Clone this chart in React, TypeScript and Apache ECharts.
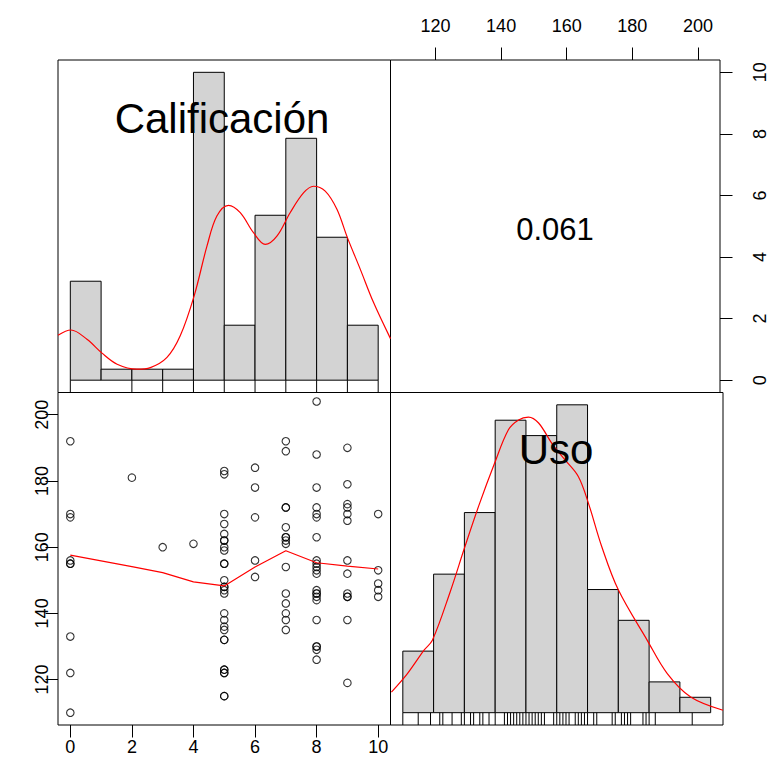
import { useEffect, useRef } from "react";
import * as echarts from "echarts";

// ---- Data ----
const califBreaks = [0, 1, 2, 3, 4, 5, 6, 7, 8, 9, 10];
const califCounts = [9, 1, 1, 1, 28, 5, 15, 22, 13, 5];
const usoBreaks = [110, 120, 130, 140, 150, 160, 170, 180, 190, 200, 210];
const usoCounts = [4, 9, 13, 19, 18, 20, 8, 6, 2, 1];

const scatterCalif = [0, 2, 3, 4, 5, 6, 7, 8, 9, 10];
const usoByCalif = [
  [192, 170, 169, 156, 155, 155, 133, 122, 110],
  [181],
  [160],
  [161],
  [183, 182, 170, 167, 164, 162, 162, 160, 159, 155, 155, 150, 148, 148, 147, 146, 140, 138, 136, 135, 132, 132, 123, 123, 122, 122, 115, 115],
  [184, 178, 169, 156, 151],
  [192, 189, 172, 172, 166, 163, 163, 162, 161, 154, 146, 143, 140, 138, 135],
  [204, 188, 178, 172, 170, 169, 163, 156, 155, 154, 153, 152, 147, 146, 146, 145, 144, 138, 130, 130, 129, 126],
  [190, 179, 173, 172, 170, 168, 156, 152, 146, 145, 145, 138, 119],
  [170, 153, 149, 147, 145],
];

const smoothX = [0, 2, 3, 4, 5, 6, 7, 8, 9, 10];
const smoothY = [157.6, 154.1, 152.3, 149.5, 148.3, 154, 158.9, 155.3, 154.3, 153.4];

const califDensX = [-0.4, 0.02, 0.54, 1.03, 1.52, 2.16, 2.6, 3.14, 3.57, 4.02, 4.44, 4.76, 5.14, 5.52, 5.95, 6.33, 6.71, 7.14, 7.58, 7.9, 8.28, 8.66, 9.0, 9.42, 9.85, 10.4];
const califDensY = [0.146, 0.163, 0.133, 0.088, 0.052, 0.036, 0.041, 0.074, 0.144, 0.273, 0.436, 0.533, 0.568, 0.544, 0.479, 0.441, 0.468, 0.544, 0.609, 0.63, 0.614, 0.555, 0.463, 0.36, 0.252, 0.135];

const usoDensX = [106.3, 111.5, 116.9, 119.6, 125.4, 130, 134.6, 139.8, 144.3, 147.6, 150.8, 154.1, 158.4, 162.7, 167, 170.3, 174.6, 180, 189.4, 195.9, 203.5, 214];
const usoDensY = [0.067, 0.127, 0.203, 0.235, 0.393, 0.534, 0.67, 0.81, 0.919, 0.951, 0.96, 0.941, 0.875, 0.821, 0.767, 0.68, 0.54, 0.399, 0.235, 0.127, 0.051, 0.008];

const correlation = "0.061";
const varNames = ["Calificación", "Uso"];
const usoTicks = [120, 140, 160, 180, 200];
const califTicks = [0, 2, 4, 6, 8, 10];

// ---- Layout ----
const X0 = 58, X1 = 390.5, Y0 = 60, Y1 = 392.5, S = 332.5;
const FONT = '"Liberation Sans", Arial, sans-serif';

export default function App() {
  const ref = useRef<HTMLDivElement>(null);
  useEffect(() => {
    if (!ref.current) return;
    const chart = echarts.init(ref.current, undefined, { renderer: "svg" });

    const maxC = Math.max(...califCounts);
    const maxU = Math.max(...usoCounts);
    const califHist = califCounts.map((c, i) => [califBreaks[i], califBreaks[i + 1], c / maxC]);
    const usoHist = usoCounts.map((c, i) => [usoBreaks[i], usoBreaks[i + 1], c / maxU]);

    const scatterPts: number[][] = [];
    const califVals: number[] = [];
    const usoVals: number[] = [];
    scatterCalif.forEach((cv, i) => {
      usoByCalif[i].forEach((u) => {
        scatterPts.push([cv, u]);
        califVals.push(cv);
        usoVals.push(u);
      });
    });

    const histRender = (params: any, api: any) => {
      const p0 = api.coord([api.value(0), api.value(2)]);
      const p1 = api.coord([api.value(1), 0]);
      return {
        type: "rect",
        shape: { x: p0[0], y: p0[1], width: p1[0] - p0[0], height: p1[1] - p0[1] },
        style: { fill: "#D3D3D3", stroke: "#000", lineWidth: 1 },
      };
    };
    const rugRender = (params: any, api: any) => {
      const a = api.coord([api.value(0), -0.04]);
      const b = api.coord([api.value(0), 0]);
      return {
        type: "line",
        shape: { x1: a[0], y1: a[1], x2: b[0], y2: b[1] },
        style: { stroke: "#000", lineWidth: 1 },
      };
    };

    const hidden = { show: false };
    const noLine = { show: false, onZero: false };
    const tickStyle = { show: true, inside: false, length: 12.5, lineStyle: { color: "#000", width: 1 } };
    const labelStyle = { color: "#000", fontSize: 18, fontFamily: FONT };

    const gridBase = { show: true, borderColor: "#000", borderWidth: 1, backgroundColor: "transparent", containLabel: false };

    chart.setOption({
      animation: false,
      backgroundColor: "#fff",
      grid: [
        { ...gridBase, left: X0, top: Y0, width: S, height: S },
        { ...gridBase, left: X1, top: Y0, width: S, height: S },
        { ...gridBase, left: X0, top: Y1, width: S, height: S },
        { ...gridBase, left: X1, top: Y1, width: S, height: S },
      ],
      xAxis: [
        { gridIndex: 0, type: "value", min: -0.4, max: 10.4, ...hidden },
        {
          gridIndex: 1, type: "value", min: 106.28, max: 206.72, position: "top",
          axisLine: noLine, splitLine: { show: false },
          axisTick: { ...tickStyle, customValues: usoTicks },
          axisLabel: { ...labelStyle, margin: 25, customValues: usoTicks },
        },
        {
          gridIndex: 2, type: "value", min: -0.4, max: 10.4, position: "bottom",
          axisLine: noLine, splitLine: { show: false },
          axisTick: { ...tickStyle, customValues: califTicks },
          axisLabel: { ...labelStyle, margin: 13, customValues: califTicks },
        },
        { gridIndex: 3, type: "value", min: 106, max: 214, ...hidden },
      ],
      yAxis: [
        { gridIndex: 0, type: "value", min: -0.04, max: 1.04, ...hidden },
        {
          gridIndex: 1, type: "value", min: -0.4, max: 10.4, position: "right",
          axisLine: noLine, splitLine: { show: false },
          axisTick: { ...tickStyle, customValues: califTicks },
          axisLabel: { ...labelStyle, margin: 31, rotate: 90, customValues: califTicks },
        },
        {
          gridIndex: 2, type: "value", min: 106.28, max: 206.72, position: "left",
          axisLine: noLine, splitLine: { show: false },
          axisTick: { ...tickStyle, customValues: usoTicks },
          axisLabel: { ...labelStyle, margin: 7, rotate: 90, customValues: usoTicks },
        },
        { gridIndex: 3, type: "value", min: -0.04, max: 1.04, ...hidden },
      ],
      series: [
        { type: "custom", xAxisIndex: 0, yAxisIndex: 0, data: califHist, encode: { x: [0, 1], y: 2 }, renderItem: histRender, clip: true, z: 2 },
        {
          type: "line", xAxisIndex: 0, yAxisIndex: 0, data: califDensX.map((x, i) => [x, califDensY[i]]),
          smooth: 0.35, showSymbol: false, symbol: "none", lineStyle: { color: "#FF0000", width: 1.2 }, clip: true, z: 3,
        },
        { type: "custom", xAxisIndex: 0, yAxisIndex: 0, data: Array.from(new Set(califVals)).map((v) => [v]), encode: { x: 0 }, renderItem: rugRender, z: 3 },
        {
          type: "scatter", xAxisIndex: 2, yAxisIndex: 2, data: scatterPts, symbol: "circle", symbolSize: 7.5,
          itemStyle: { color: "rgba(0,0,0,0)", borderColor: "#000", borderWidth: 1.1 }, z: 2,
        },
        {
          type: "line", xAxisIndex: 2, yAxisIndex: 2, data: smoothX.map((x, i) => [x, smoothY[i]]),
          showSymbol: false, symbol: "none", lineStyle: { color: "#FF0000", width: 1.2 }, z: 3,
        },
        { type: "custom", xAxisIndex: 3, yAxisIndex: 3, data: usoHist, encode: { x: [0, 1], y: 2 }, renderItem: histRender, clip: true, z: 2 },
        {
          type: "line", xAxisIndex: 3, yAxisIndex: 3, data: usoDensX.map((x, i) => [x, usoDensY[i]]),
          smooth: 0.35, showSymbol: false, symbol: "none", lineStyle: { color: "#FF0000", width: 1.2 }, clip: true, z: 3,
        },
        { type: "custom", xAxisIndex: 3, yAxisIndex: 3, data: Array.from(new Set(usoVals)).map((v) => [v]), encode: { x: 0 }, renderItem: rugRender, z: 3 },
      ],
      graphic: [
        {
          type: "text", x: 222, y: 118, z: 100,
          style: { text: varNames[0], fontSize: 42, fontFamily: FONT, fill: "#000", align: "center", verticalAlign: "middle" },
        },
        {
          type: "text", x: 556, y: 449, z: 100,
          style: { text: varNames[1], fontSize: 42, fontFamily: FONT, fill: "#000", align: "center", verticalAlign: "middle" },
        },
        {
          type: "text", x: 555, y: 229, z: 100,
          style: { text: correlation, fontSize: 31, fontFamily: FONT, fill: "#000", align: "center", verticalAlign: "middle" },
        },
      ],
    });
    return () => chart.dispose();
  }, []);
  return <div ref={ref} style={{ position: "fixed", left: 0, top: 0, width: 769, height: 771 }} />;
}
